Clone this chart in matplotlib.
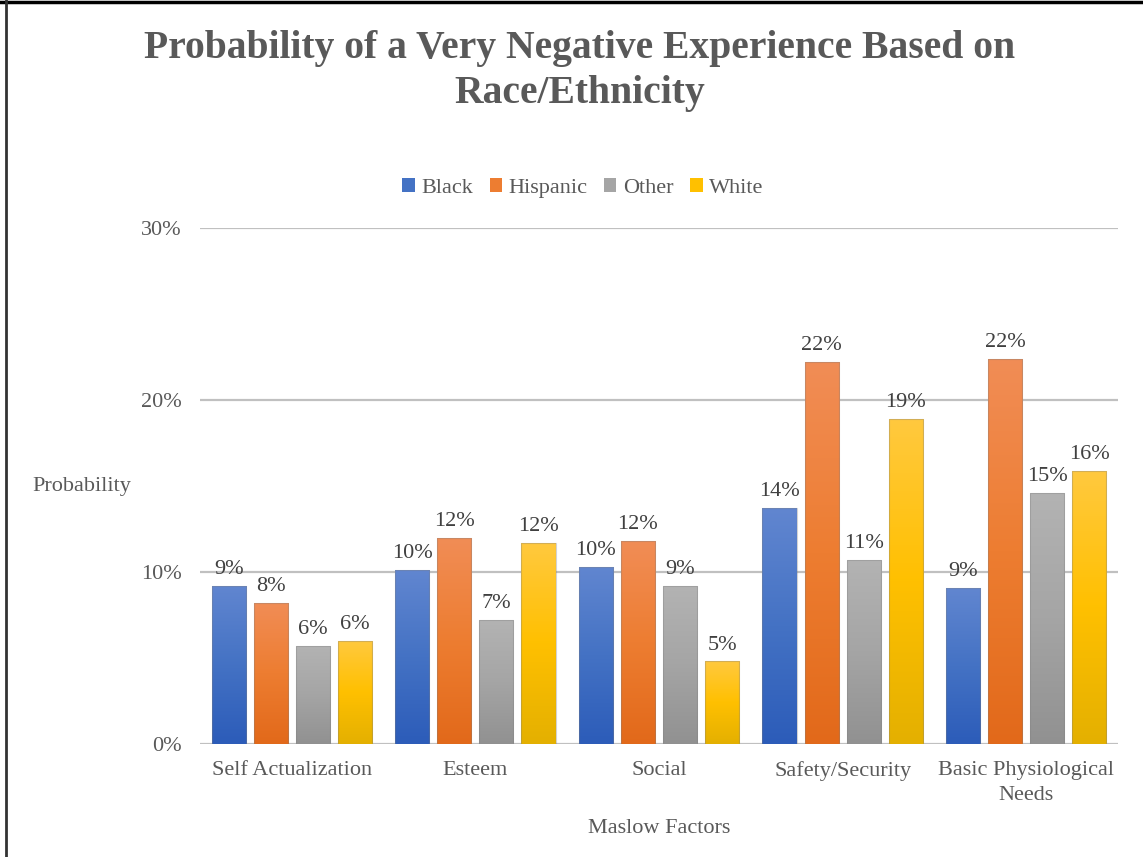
import numpy as np
import matplotlib
matplotlib.use("Agg")
import matplotlib.pyplot as plt
from matplotlib.patches import Patch
from matplotlib.colors import LinearSegmentedColormap
from matplotlib.lines import Line2D

plt.rcParams['font.family'] = ['Liberation Serif', 'DejaVu Serif']

categories = ["Self Actualization", "Esteem", "Social", "Safety/Security",
              "Basic Physiological\nNeeds"]
series_names = ["Black", "Hispanic", "Other", "White"]
black = [0.092, 0.101, 0.103, 0.137, 0.0905]
hispanic = [0.082, 0.120, 0.118, 0.222, 0.224]
other = [0.057, 0.072, 0.092, 0.107, 0.146]
white = [0.060, 0.117, 0.048, 0.189, 0.159]
y_ticks = [0.0, 0.10, 0.20, 0.30]
y_tick_labels = ["0%", "10%", "20%", "30%"]

series_values = [black, hispanic, other, white]
# (top, middle, bottom) gradient stops per series
gradients = [
    ("#6186d0", "#4472c4", "#2c5cb9"),
    ("#f18d56", "#ed7d31", "#e2691a"),
    ("#b3b3b3", "#a5a5a5", "#919191"),
    ("#ffc93f", "#ffc000", "#e4b000"),
]
base_colors = ["#4472c4", "#ed7d31", "#a5a5a5", "#ffc000"]

FS = 16
TXT = "#595959"

W, H = 1143, 857
fig = plt.figure(figsize=(W / 100, H / 100), dpi=100)
ax = fig.add_axes([200 / W, 1 - 744 / H, 918 / W, (744 - 228) / H])

x = np.arange(len(categories))
step = 0.229
bar_w = 0.186
grad = np.linspace(1, 0, 256).reshape(-1, 1)

for i, (vals, stops) in enumerate(zip(series_values, gradients)):
    offs = (i - 1.5) * step
    bars = ax.bar(x + offs, vals, width=bar_w, color="none", edgecolor="none",
                  zorder=3)
    cmap = LinearSegmentedColormap.from_list(f"g{i}", [stops[2], stops[1], stops[0]])
    for b, v in zip(bars, vals):
        x0 = b.get_x()
        im = ax.imshow(grad, cmap=cmap, aspect="auto",
                       extent=[x0, x0 + bar_w, 0, v], zorder=3,
                       interpolation="bicubic")
        im.set_clip_path(b)
        # soft outline around each bar
        ax.add_patch(plt.Rectangle((x0, 0), bar_w, v, fill=False,
                                   edgecolor=(0.5, 0.5, 0.5, 0.35), lw=0.8,
                                   zorder=4))
        ax.text(x0 + bar_w / 2, v + 0.004, f"{v * 100:.0f}%", ha="center",
                va="bottom", fontsize=FS, color="#404040", zorder=5)

ax.set_xlim(-0.5, len(categories) - 0.5)
ax.set_ylim(0, 0.30)
ax.set_yticks(y_ticks)
ax.set_yticklabels(y_tick_labels, fontsize=FS, color=TXT)
ax.set_xticks(x)
ax.set_xticklabels(categories, fontsize=FS, color=TXT, linespacing=1.45)
ax.tick_params(axis="both", length=0)
ax.tick_params(axis="y", pad=13)
ax.tick_params(axis="x", pad=12)
for s in ax.spines.values():
    s.set_visible(False)
ax.grid(axis="y", color="#c0c0c0", lw=1.6, zorder=1)
ax.set_axisbelow(True)
ax.set_xlabel("Maslow Factors", fontsize=FS, color=TXT, labelpad=10)

fig.text(32 / W, 1 - 487 / H, "Probability", fontsize=FS, color=TXT,
         ha="left", va="center")

fig.text(580 / W, 1 - 71 / H,
         "Probability of a Very Negative Experience Based on\nRace/Ethnicity",
         fontsize=28.5, fontweight="bold", color=TXT, ha="center",
         va="center", linespacing=1.3)

handles = [Patch(facecolor=c, edgecolor="none") for c in base_colors]
fig.legend(handles, series_names, loc="center", ncol=4,
           bbox_to_anchor=(583 / W, 1 - 188 / H), frameon=False,
           fontsize=FS, handlelength=0.55, handleheight=0.55,
           handletextpad=0.3, columnspacing=0.75, labelcolor=TXT)

# frame lines along the top and left edge of the figure
fig.add_artist(Line2D([0, 1], [1 - 2 / H, 1 - 2 / H], transform=fig.transFigure,
                      color="black", lw=2.5))
fig.add_artist(Line2D([6 / W, 6 / W], [0, 1], transform=fig.transFigure,
                      color="#333333", lw=2))

fig.savefig("out.png", dpi=100)
